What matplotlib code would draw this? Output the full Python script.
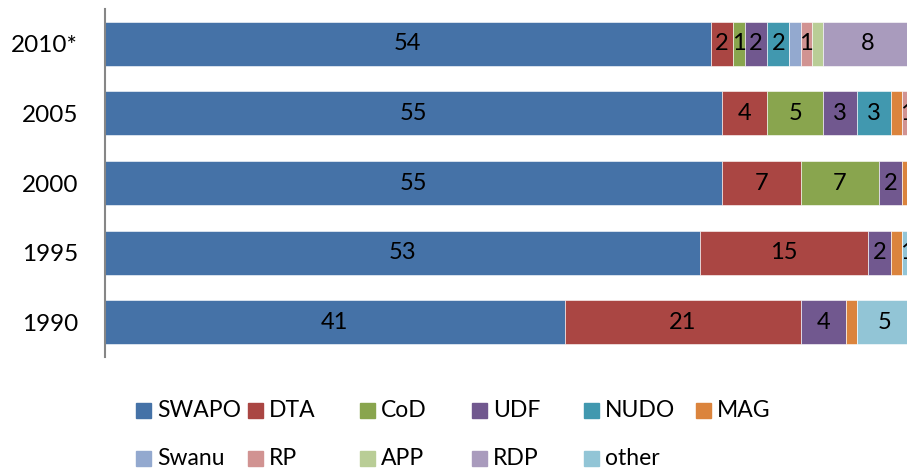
import matplotlib
matplotlib.use("Agg")
import matplotlib.pyplot as plt
from matplotlib.patches import Rectangle

plt.rcParams['font.family'] = ['Lato', 'DejaVu Sans']

years = ["1990", "1995", "2000", "2005", "2010*"]
parties = ["SWAPO", "DTA", "CoD", "UDF", "NUDO", "MAG",
           "Swanu", "RP", "APP", "RDP", "other"]
SWAPO = [41, 53, 55, 55, 54]
DTA = [21, 15, 7, 4, 2]
CoD = [0, 0, 7, 5, 1]
UDF = [4, 2, 2, 3, 2]
NUDO = [0, 0, 0, 3, 2]
MAG = [1, 1, 1, 1, 0]
Swanu = [0, 0, 0, 0, 1]
RP = [0, 0, 0, 1, 1]
APP = [0, 0, 0, 0, 1]
RDP = [0, 0, 0, 0, 8]
other = [5, 1, 0, 0, 0]
values = [SWAPO, DTA, CoD, UDF, NUDO, MAG, Swanu, RP, APP, RDP, other]
colors = ["#4572A7", "#AA4643", "#89A54E", "#71588F", "#4198AF", "#DB843D",
          "#93A9CF", "#D19392", "#B9CD96", "#A99BBD", "#92C5D6"]
unlabeled = {"MAG", "Swanu", "APP"}

W, H = 907, 469
fig = plt.figure(figsize=(W / 100, H / 100), dpi=100)
ax = fig.add_axes([104.5 / W, (H - 357) / H, 808.5 / W, 348 / H])

left = [0] * len(years)
for name, vals, col in zip(parties, values, colors):
    bars = ax.barh(years, vals, left=left, height=0.63, color=col,
                   edgecolor="white", linewidth=0.4)
    if name not in unlabeled:
        labels = [str(v) if v > 0 else "" for v in vals]
        ax.bar_label(bars, labels=labels, label_type="center",
                     fontsize=17, color="black")
    left = [l + v for l, v in zip(left, vals)]

ax.set_xlim(0, 72)
ax.set_ylim(-0.5, len(years) - 0.5)
for s in ["top", "right", "bottom"]:
    ax.spines[s].set_visible(False)
ax.spines["left"].set_color("#868686")
ax.spines["left"].set_linewidth(1.5)
ax.set_xticks([])
ax.tick_params(axis="y", length=0, pad=19, labelsize=17.5)

# legend (6 per row)
for i, (name, col) in enumerate(zip(parties, colors)):
    r, c = divmod(i, 6)
    x0 = 136 + c * 112
    yc = 410 + r * 48
    fig.add_artist(Rectangle((x0 / W, (H - yc - 7.5) / H), 15 / W, 15 / H,
                             transform=fig.transFigure, color=col))
    fig.text((x0 + 21) / W, (H - yc) / H, name, fontsize=16.5,
             va="center", ha="left")

fig.savefig("out.png", dpi=100)
